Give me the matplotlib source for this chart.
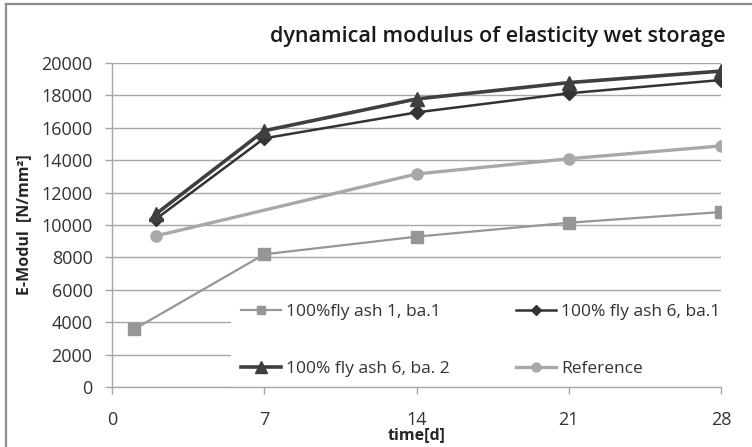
import matplotlib
matplotlib.use("Agg")
import matplotlib.pyplot as plt
from matplotlib.lines import Line2D

# Measurement days and dynamic modulus values [N/mm²]
days_fa1 = [1, 7, 14, 21, 28]
emod_fa1_ba1 = [3550, 8190, 9280, 10140, 10800]

days_fa6 = [2, 7, 14, 21, 28]
emod_fa6_ba1 = [10350, 15350, 16950, 18130, 18950]
emod_fa6_ba2 = [10660, 15820, 17780, 18790, 19500]

days_ref = [2, 14, 21, 28]
emod_ref = [9320, 13150, 14090, 14880]

series_labels = ["100%fly ash 1, ba.1", "100% fly ash 6, ba.1",
                 "100% fly ash 6, ba. 2", "Reference"]

x_ticks = [0, 7, 14, 21, 28]
y_ticks = list(range(0, 20001, 2000))

plt.rcParams["font.family"] = ["Open Sans", "DejaVu Sans"]

W, H = 752, 447
fig = plt.figure(figsize=(W / 100, H / 100), dpi=100)

# chart-area border (left and top edges)
border_col = "#8c8c8c"
fig.add_artist(Line2D([6 / W, 6 / W], [0, 1 - 4 / H], transform=fig.transFigure,
                      color=border_col, lw=1.6))
fig.add_artist(Line2D([6 / W, 1], [1 - 4 / H, 1 - 4 / H], transform=fig.transFigure,
                      color=border_col, lw=1.6))

ax = fig.add_axes([112 / W, 1 - 387 / H, (721 - 112) / W, (387 - 63) / H])
ax.set_xlim(0, 28)
ax.set_ylim(0, 20000)

grid_col = "#a6a6a6"
ax.set_axisbelow(True)
ax.yaxis.grid(True, color=grid_col, lw=1.0)
for s in ("top", "right"):
    ax.spines[s].set_visible(False)
for s in ("left", "bottom"):
    ax.spines[s].set_color(grid_col)
    ax.spines[s].set_linewidth(1.0)

ax.set_xticks(x_ticks)
ax.set_yticks(y_ticks)
ax.tick_params(axis="x", direction="out", length=5, width=1.0, color=grid_col,
               pad=12, labelsize=13, labelcolor="#333333")
ax.tick_params(axis="y", direction="out", length=5, width=1.0, color=grid_col,
               pad=9, labelsize=13, labelcolor="#333333")

ax.plot(days_fa1, emod_fa1_ba1, color="#969696", lw=1.6, marker="s", ms=8,
        label=series_labels[0], zorder=3)
ax.plot(days_fa6, emod_fa6_ba1, color="#333333", lw=1.8, marker="D", ms=7,
        label=series_labels[1], zorder=3)
ax.plot(days_fa6, emod_fa6_ba2, color="#3f3f3f", lw=2.6, marker="^", ms=10,
        label=series_labels[2], zorder=3)
ax.plot(days_ref, emod_ref, color="#a8a8a8", lw=2.4, marker="o", ms=8,
        label=series_labels[3], zorder=3)

handles, labels = ax.get_legend_handles_labels()
order = [0, 2, 1, 3]
leg = ax.legend([handles[i] for i in order], [labels[i] for i in order],
                ncol=2, loc="lower left", bbox_to_anchor=(0.195, 0.0),
                frameon=True, facecolor="white", edgecolor="none", framealpha=1,
                fancybox=False, fontsize=12.5, handlelength=2.3, markerscale=0.8,
                handletextpad=0.3, labelspacing=2.3, columnspacing=3.8,
                borderpad=0.6, borderaxespad=0.0)
for t in leg.get_texts():
    t.set_color("#333333")
leg.set_zorder(2.4)

ax.set_ylabel("E-Modul  [N/mm²]", fontsize=11.5, fontweight="bold",
              color="#262626")
ax.yaxis.set_label_coords(-0.131, 0.5)
ax.set_xlabel("time[d]", fontsize=11.5, fontweight="bold", color="#262626")
ax.xaxis.set_label_coords(0.5, -0.125)

fig.text(725 / W, 1 - 42 / H, "dynamical modulus of elasticity wet storage",
         ha="right", va="baseline", fontsize=15.5, fontweight="semibold",
         color="#1a1a1a")

fig.savefig("out.png", dpi=100)
